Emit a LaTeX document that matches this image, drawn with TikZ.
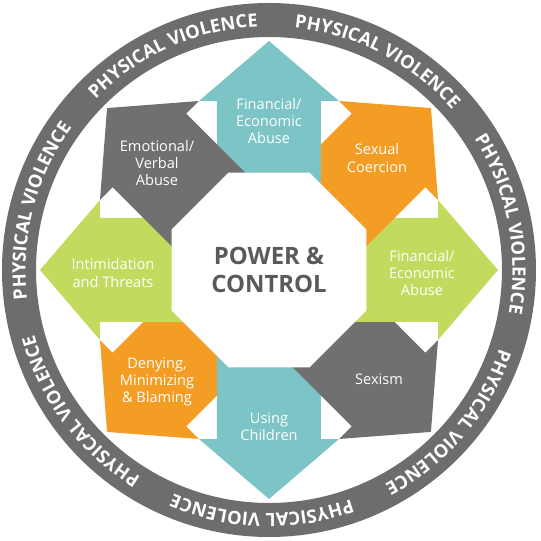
\documentclass[tikz,border=0pt]{standalone}
\usepackage{fontspec}
\setmainfont{Open Sans}
\usepackage{xcolor}
\usepackage{tikz}
\usetikzlibrary{shapes.geometric,decorations.text}

\definecolor{wheelteal}{RGB}{124,196,197}
\definecolor{wheelgreen}{RGB}{194,219,94}
\definecolor{wheelorange}{RGB}{243,157,36}
\definecolor{wheelgray}{RGB}{112,112,112}
\definecolor{ringgray}{RGB}{109,109,109}
\definecolor{coretext}{RGB}{90,90,90}

\begin{document}
\begin{tikzpicture}[x=0.02cm, y=0.02cm,
    armtext/.style={text=white, align=center, font=\fontsize{8.3}{9.8}\selectfont},
    corebox/.style={regular polygon, regular polygon sides=8, minimum size=4.22cm,
        fill=white, text=coretext, align=center, font=\fontsize{13.6}{16.2}\selectfont\bfseries},
    ringtext/.style={decorate, decoration={text along path, text align=center,
        text color=white, text={|\fontsize{10.4}{12}\selectfont\bfseries|PHYSICAL VIOLENCE}}}]
    \useasboundingbox (-269,-271) rectangle (272,270);

    % Outer ring
    \fill[ringgray, even odd rule] (0,0) circle (267) (0,0) circle (233);
    \foreach \k in {0,...,6} {
        \pgfmathsetmacro{\ringmid}{114-51.43*\k}
        \path[ringtext] (\ringmid+25.7:243.5) arc[start angle=\ringmid+25.7, end angle=\ringmid-25.7, radius=243.5];
    }

    % Arrows (bottom to top)
    \foreach \ang/\col in {225/wheelorange, 270/wheelteal, 315/wheelgray, 0/wheelgreen,
                           45/wheelorange, 90/wheelteal, 180/wheelgreen, 135/wheelgray} {
        \fill[\col, rotate=\ang] (0,-52) -- (169,-52) -- (169,-70) -- (229,0)
            -- (169,70) -- (169,52) -- (0,52) -- cycle;
    }

    % Centre
    \node[corebox] (core) at (0,0) {POWER \&\\CONTROL};

    % Arrow texts
    \node[armtext] (finTop) at (0,149) {Financial/\\Economic\\Abuse};
    \node[armtext] (sexual) at (108,112) {Sexual\\Coercion};
    \node[armtext] (finRight) at (153,-3) {Financial/\\Economic\\Abuse};
    \node[armtext] (sexism) at (110,-109) {Sexism};
    \node[armtext] (children) at (0,-157) {Using\\Children};
    \node[armtext] (denying) at (-112,-112) {Denying,\\Minimizing\\\& Blaming};
    \node[armtext] (intimidation) at (-156,-3) {Intimidation\\and Threats};
    \node[armtext] (emotional) at (-112,107) {Emotional/\\Verbal\\Abuse};
\end{tikzpicture}
\end{document}
